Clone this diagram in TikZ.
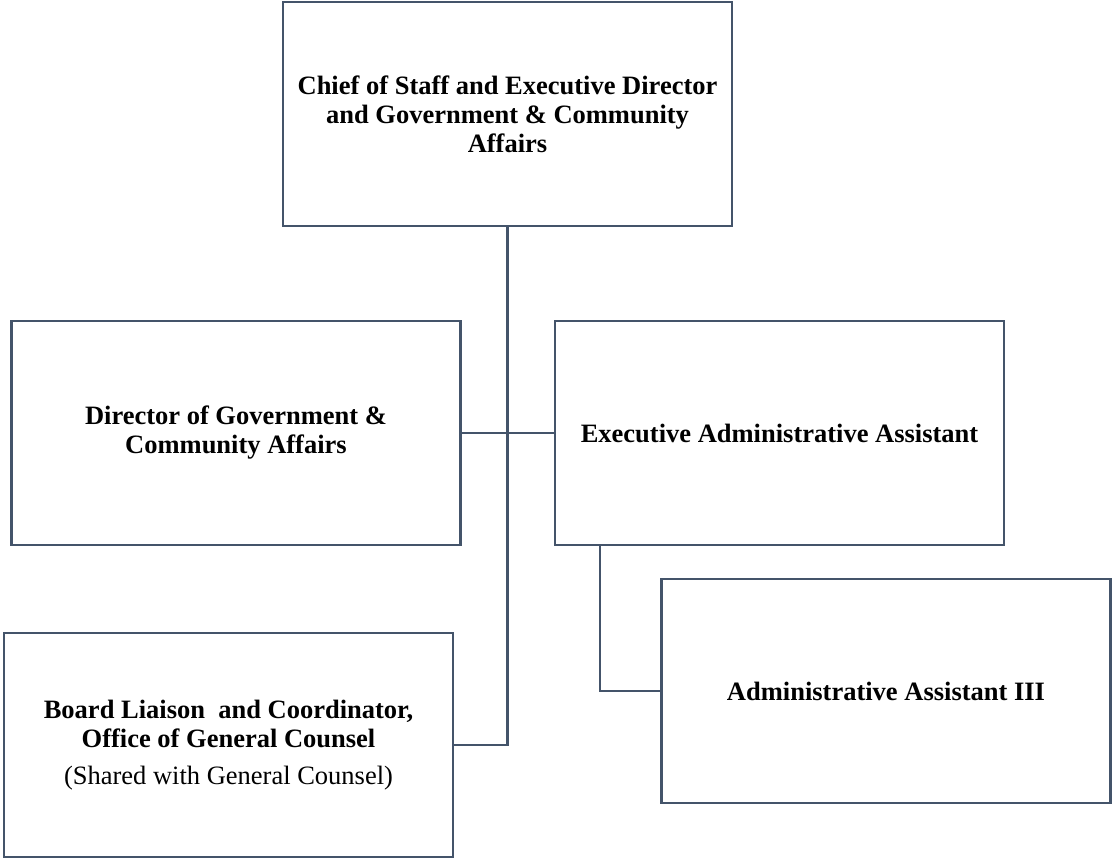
\documentclass[tikz,border=0pt]{standalone}
\usepackage{fontspec}
\setmainfont{Liberation Serif}
\usepackage{tikz}
\definecolor{slate}{HTML}{44546A}
\tikzset{
  orgnode/.style = {align=center, inner sep=0pt, text centered},
  org_box/.style = {orgnode, rectangle, black, draw=slate, line width=2.5pt, minimum width=449pt, minimum height=224pt, font=\fontsize{26.5}{29}\selectfont},
  org_line/.style = {draw=slate, line width=2.5pt},
}
\begin{document}
\begin{tikzpicture}[x=1pt, y=-1pt]
  \useasboundingbox (0,0) rectangle (1112,859);
  \node [org_box] (cos) at (507.5,114) {\textbf{Chief of Staff and Executive Director}\\\textbf{and Government \& Community}\\\textbf{Affairs}};
  \node [org_box] (dir) at (236,433) {\textbf{Director of Government \&}\\\textbf{Community Affairs}};
  \node [org_box] (eaa) at (779.5,433) {\textbf{Executive Administrative Assistant}};
  \node [org_box] (aa3) at (886,691) {\textbf{Administrative Assistant III}};
  \node [org_box] (blc) at (228.5,745) {\textbf{Board Liaison\ \ and Coordinator,}\\\textbf{Office of General Counsel}\\[8pt](Shared with General Counsel)};
  \coordinate (eaa_b) at (600,545);
  \draw [org_line] (cos.south) -- (cos.south |- blc.east) -- (blc.east);
  \draw [org_line] (dir.east) -- (eaa.west);
  \draw [org_line] (eaa_b) |- (aa3.west);
\end{tikzpicture}
\end{document}
